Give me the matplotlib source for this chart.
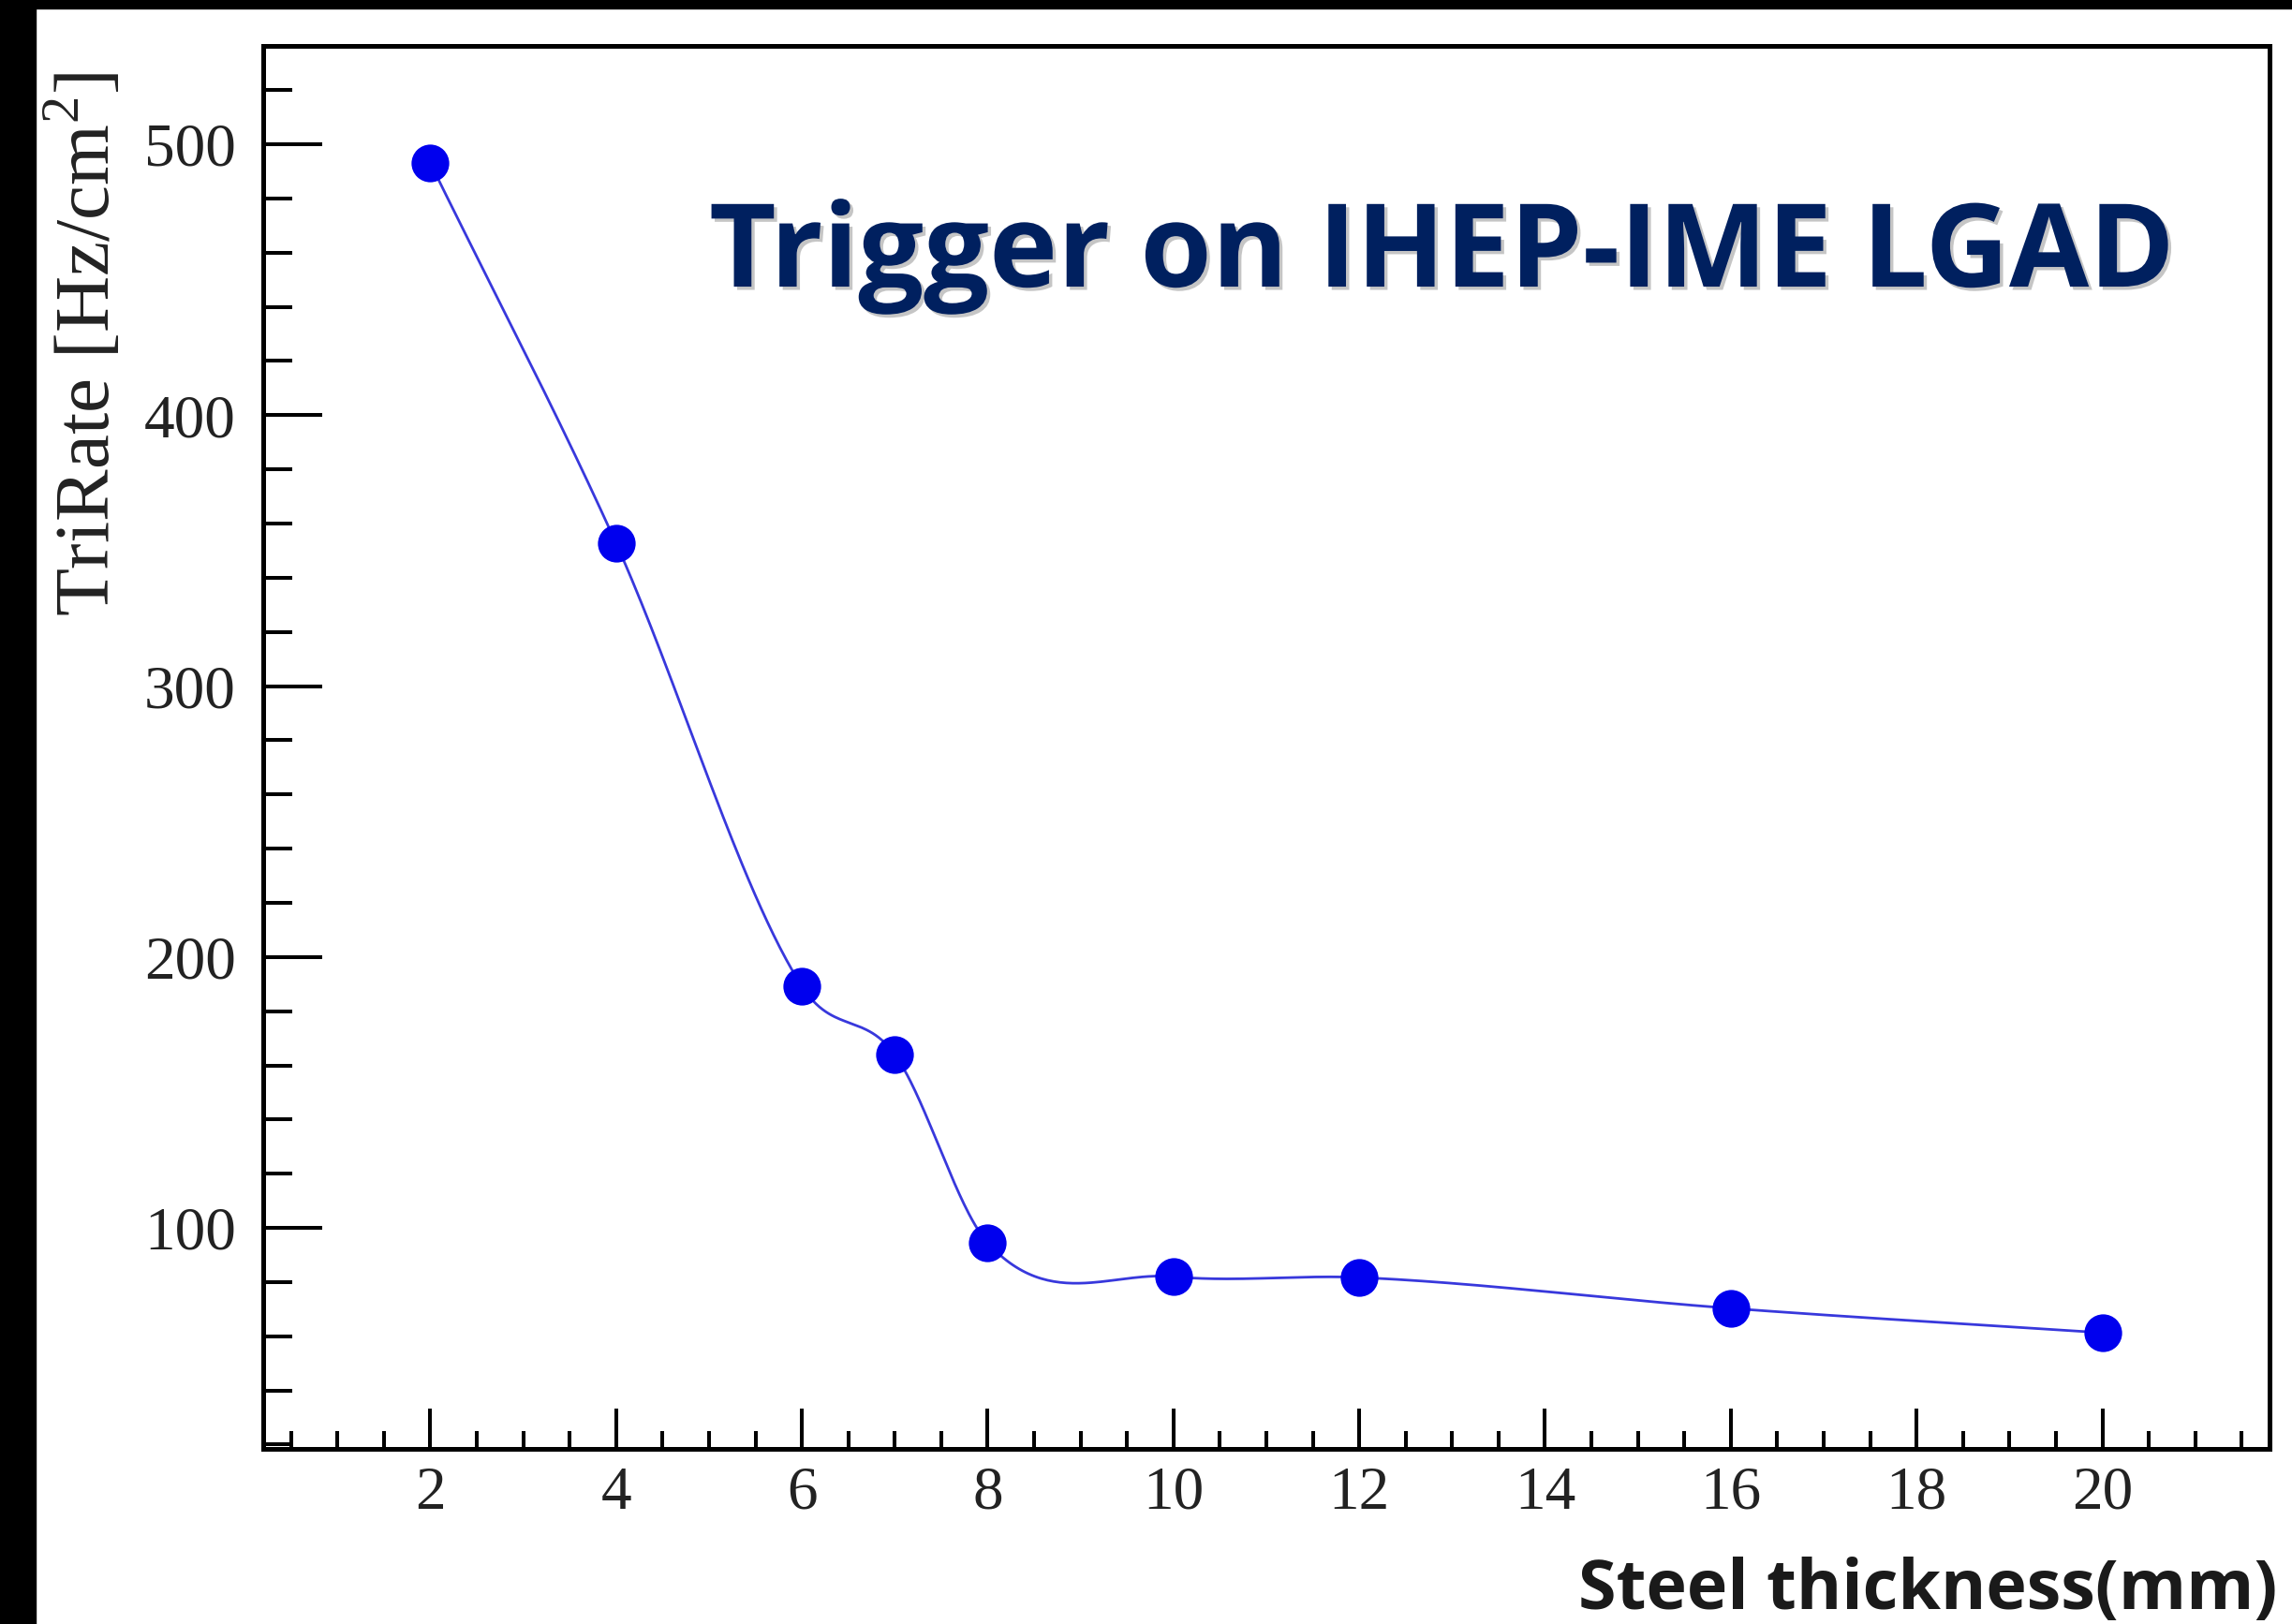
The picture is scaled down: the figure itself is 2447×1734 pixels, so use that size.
#!/usr/bin/env python3
import matplotlib
matplotlib.use('Agg')
import matplotlib.pyplot as plt
import matplotlib.patheffects as pe
from matplotlib.ticker import MultipleLocator
import numpy as np

# steel thickness (mm) vs trigger rate (Hz/cm^2)
thickness = [2, 4, 6, 7, 8, 10, 12, 16, 20]
tri_rate = [493.1, 352.7, 189.2, 164.0, 94.5, 82.0, 81.7, 70.3, 61.3]

title = 'Trigger on IHEP-IME LGAD'
xlabel = 'Steel thickness(mm)'
ylabel = r'TriRate [Hz/cm$^{\mathrm{2}}$]'


def smooth_curve(x, y, n=60):
    # cubic Hermite through the points, tangents = mean of adjacent secants
    x = np.asarray(x, float)
    y = np.asarray(y, float)
    sec = np.diff(y) / np.diff(x)
    m = np.empty_like(y)
    m[0], m[-1] = sec[0], sec[-1]
    m[1:-1] = 0.5 * (sec[:-1] + sec[1:])
    xs, ys = [], []
    for i in range(len(x) - 1):
        h = x[i + 1] - x[i]
        t = np.linspace(0, 1, n)
        h00 = 2 * t**3 - 3 * t**2 + 1
        h10 = t**3 - 2 * t**2 + t
        h01 = -2 * t**3 + 3 * t**2
        h11 = t**3 - t**2
        xs.append(x[i] + t * h)
        ys.append(h00 * y[i] + h10 * h * m[i] + h01 * y[i + 1] + h11 * h * m[i + 1])
    return np.concatenate(xs), np.concatenate(ys)


plt.rcParams['mathtext.fontset'] = 'custom'
plt.rcParams['mathtext.rm'] = 'Liberation Serif'

fig = plt.figure(figsize=(24.47, 17.34), dpi=100)
ax = fig.add_axes([0.1148, 0.1078, 0.8754, 0.8639])

cx, cy = smooth_curve(thickness, tri_rate)
ax.plot(cx, cy, color='#3838dc', lw=2.0, zorder=2)
ax.plot(thickness, tri_rate, 'o', color='#0000ee', ms=29, mec='none', zorder=3)

ax.set_xlim(0.2, 21.8)
ax.set_ylim(18.4, 536.3)
ax.xaxis.set_major_locator(MultipleLocator(2))
ax.xaxis.set_minor_locator(MultipleLocator(0.5))
ax.yaxis.set_major_locator(MultipleLocator(100))
ax.yaxis.set_minor_locator(MultipleLocator(20))

for s in ax.spines.values():
    s.set_linewidth(3.6)
ax.tick_params(axis='both', which='both', direction='in', top=False, right=False,
               width=2.9, colors='black', labelcolor='#222222', labelsize=47)
ax.yaxis.set_tick_params(which='major', length=45, pad=21)
ax.yaxis.set_tick_params(which='minor', length=22)
ax.xaxis.set_tick_params(which='major', length=31, pad=13)
ax.xaxis.set_tick_params(which='minor', length=14)
for lab in ax.get_xticklabels() + ax.get_yticklabels():
    lab.set_fontfamily('Liberation Serif')

fig.text(0.3094, 0.8235, title, fontsize=89, fontweight='bold', family='Open Sans',
         color='#00205f', ha='left', va='baseline',
         path_effects=[pe.withSimplePatchShadow(offset=(2.5, -2.5), shadow_rgbFace='#808080', alpha=0.45)])
fig.text(0.9935, 0.0092, xlabel, fontsize=53, fontweight='bold', family='Open Sans',
         color='#1a1a1a', ha='right', va='baseline')
fig.text(0.0376, 0.956, ylabel, fontsize=60, family='Liberation Serif', color='#222222',
         rotation=90, ha='center', va='top')

# dark frame strips of the screenshot
fig.patches.append(plt.Rectangle((0, 0), 38 / 2447, 1, transform=fig.transFigure,
                                 color='black', zorder=10))
fig.patches.append(plt.Rectangle((0, 1 - 9 / 1734), 1, 9 / 1734, transform=fig.transFigure,
                                 color='black', zorder=10))

fig.savefig('out.png', dpi=100)
plt.close(fig)
